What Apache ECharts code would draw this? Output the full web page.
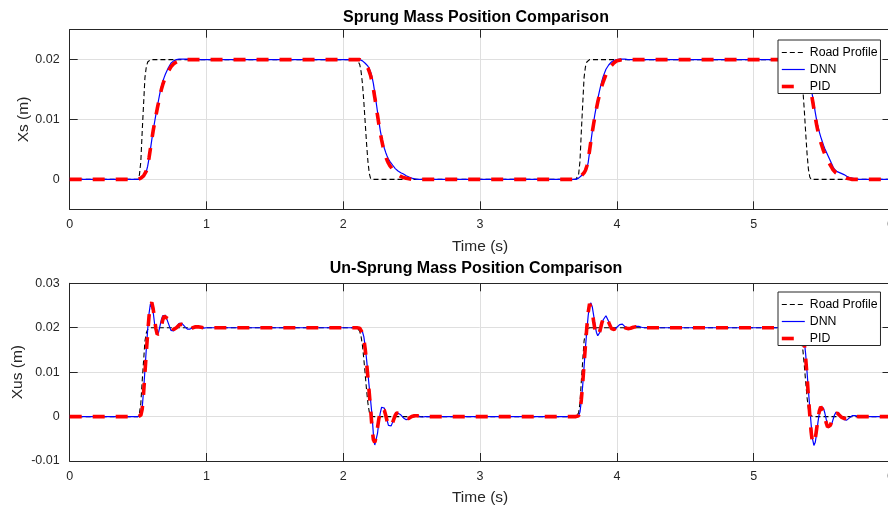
<!DOCTYPE html>
<html>
<head>
<meta charset="utf-8">
<script src="https://cdn.jsdelivr.net/npm/echarts@6/dist/echarts.min.js"></script>
<style>
  html, body { margin: 0; padding: 0; background: #fff; }
  #main { width: 888px; height: 511px; }
</style>
</head>
<body>
<div id="main"></div>
<script>
// time (s), dense around the four road transitions
var t = [0, 0.2, 0.4,
  0.48, 0.50, 0.51, 0.52, 0.53, 0.54, 0.55, 0.56, 0.57, 0.58, 0.59, 0.60, 0.61, 0.62, 0.63, 0.64, 0.65, 0.66, 0.67, 0.68, 0.69, 0.70,
  0.72, 0.74, 0.76, 0.78, 0.80, 0.82, 0.84, 0.86, 0.88, 0.90, 0.92, 0.94, 0.96, 0.98, 1.00,
  1.2, 1.4, 1.6, 1.8, 2.0,
  2.08, 2.10, 2.11, 2.12, 2.13, 2.14, 2.15, 2.16, 2.17, 2.18, 2.19, 2.20, 2.21, 2.22, 2.23, 2.24, 2.25, 2.26, 2.27, 2.28,
  2.29, 2.30, 2.31, 2.32, 2.33, 2.34, 2.35, 2.36, 2.37, 2.38, 2.39, 2.40,
  2.42, 2.44, 2.46, 2.48, 2.50, 2.52, 2.54, 2.56, 2.58, 2.60,
  2.7, 2.9, 3.1, 3.3, 3.5,
  3.68, 3.70, 3.71, 3.72, 3.73, 3.74, 3.75, 3.76, 3.77, 3.78, 3.79, 3.80, 3.81, 3.82, 3.83, 3.84, 3.85, 3.86, 3.87, 3.88, 3.89, 3.90,
  3.92, 3.94, 3.96, 3.98, 4.00, 4.02, 4.04, 4.06, 4.08, 4.10, 4.12, 4.14, 4.16, 4.18, 4.20,
  4.4, 4.6, 4.8, 5.0, 5.2,
  5.30, 5.32, 5.33, 5.34, 5.35, 5.36, 5.37, 5.38, 5.39, 5.40, 5.41, 5.42, 5.43, 5.44, 5.45, 5.46, 5.47, 5.48, 5.49, 5.50,
  5.51, 5.52, 5.53, 5.54, 5.55, 5.56, 5.57, 5.58, 5.59, 5.60, 5.61, 5.62,
  5.64, 5.66, 5.68, 5.70, 5.72, 5.74, 5.76, 5.78, 5.80, 5.82,
  5.9, 6.0];

// road profile (same input for both plots)
var road = [0, 0, 0,
  0, 0, 0.0008, 0.003, 0.008, 0.0125, 0.017, 0.0188, 0.0196, 0.0199, 0.02, 0.02, 0.02, 0.02, 0.02, 0.02, 0.02, 0.02, 0.02, 0.02, 0.02, 0.02,
  0.02, 0.02, 0.02, 0.02, 0.02, 0.02, 0.02, 0.02, 0.02, 0.02, 0.02, 0.02, 0.02, 0.02, 0.02,
  0.02, 0.02, 0.02, 0.02, 0.02,
  0.02, 0.02, 0.0199, 0.0192, 0.018, 0.016, 0.013, 0.0095, 0.006, 0.003, 0.001, 0.0001, 0, 0, 0, 0, 0, 0, 0, 0,
  0, 0, 0, 0, 0, 0, 0, 0, 0, 0, 0, 0,
  0, 0, 0, 0, 0, 0, 0, 0, 0, 0,
  0, 0, 0, 0, 0,
  0, 0, 0, 0.0008, 0.003, 0.008, 0.0125, 0.017, 0.0188, 0.0196, 0.0199, 0.02, 0.02, 0.02, 0.02, 0.02, 0.02, 0.02, 0.02, 0.02, 0.02, 0.02,
  0.02, 0.02, 0.02, 0.02, 0.02, 0.02, 0.02, 0.02, 0.02, 0.02, 0.02, 0.02, 0.02, 0.02, 0.02,
  0.02, 0.02, 0.02, 0.02, 0.02,
  0.02, 0.02, 0.0197, 0.0188, 0.0172, 0.0148, 0.0115, 0.0078, 0.0043, 0.0017, 0.0004, 0, 0, 0, 0, 0, 0, 0, 0, 0,
  0, 0, 0, 0, 0, 0, 0, 0, 0, 0, 0, 0,
  0, 0, 0, 0, 0, 0, 0, 0, 0, 0,
  0, 0];

// sprung mass position Xs (m)
var xsDnn = [0, 0, 0,
  0, 0, 0.0001, 0.0002, 0.0004, 0.0006, 0.0008, 0.0013, 0.0022, 0.0035, 0.005, 0.0066, 0.0082, 0.0095, 0.0108, 0.0121, 0.0133, 0.0145, 0.0155, 0.0163, 0.017, 0.0176,
  0.0186, 0.0194, 0.0198, 0.02, 0.0201, 0.0201, 0.0201, 0.0201, 0.0201, 0.02, 0.02, 0.02, 0.02, 0.02, 0.02,
  0.02, 0.02, 0.02, 0.02, 0.02,
  0.02, 0.02, 0.02, 0.02, 0.0199, 0.0198, 0.0196, 0.0194, 0.0192, 0.0189, 0.0185, 0.0179, 0.0171, 0.016, 0.0145, 0.0129, 0.0113, 0.0097, 0.0082, 0.007,
  0.006, 0.0052, 0.0045, 0.0039, 0.0034, 0.003, 0.0027, 0.0024, 0.0021, 0.0018, 0.0016, 0.0014,
  0.0011, 0.0009, 0.0006, 0.0004, 0.0002, 0.0001, 0, 0, 0, 0,
  0, 0, 0, 0, 0,
  0, 0, 0, 0.0002, 0.0004, 0.0006, 0.0008, 0.001, 0.0013, 0.0018, 0.0028, 0.0045, 0.0063, 0.008, 0.0096, 0.011, 0.0122, 0.0134, 0.0145, 0.0155, 0.0164, 0.0172,
  0.0184, 0.0191, 0.0196, 0.0199, 0.02, 0.0201, 0.0201, 0.0201, 0.02, 0.02, 0.02, 0.02, 0.02, 0.02, 0.02,
  0.02, 0.02, 0.02, 0.02, 0.02,
  0.02, 0.02, 0.02, 0.0199, 0.0198, 0.0196, 0.0193, 0.0189, 0.0183, 0.0175, 0.0165, 0.0152, 0.0139, 0.0126, 0.0112, 0.0099, 0.0088, 0.0079, 0.0071, 0.0064,
  0.0057, 0.0051, 0.0046, 0.0041, 0.0036, 0.0031, 0.0026, 0.0021, 0.0017, 0.0015, 0.0013, 0.0012,
  0.001, 0.0008, 0.0005, 0.0003, 0.0002, 0.0001, 0, 0, 0, 0,
  0, 0];

var xsPid = [0, 0, 0,
  0, 0, 0.0001, 0.0002, 0.0004, 0.0006, 0.0009, 0.0014, 0.0023, 0.0036, 0.0051, 0.0066, 0.0081, 0.0094, 0.0106, 0.0118, 0.0129, 0.014, 0.015, 0.0158, 0.0165, 0.0171,
  0.018, 0.0188, 0.0193, 0.0196, 0.0198, 0.0199, 0.02, 0.02, 0.02, 0.02, 0.02, 0.02, 0.02, 0.02, 0.02,
  0.02, 0.02, 0.02, 0.02, 0.02,
  0.02, 0.02, 0.02, 0.02, 0.0199, 0.0198, 0.0196, 0.0193, 0.019, 0.0186, 0.018, 0.0173, 0.0163, 0.0151, 0.0137, 0.0122, 0.0107, 0.0092, 0.0078, 0.0066,
  0.0055, 0.0046, 0.0038, 0.0032, 0.0027, 0.0023, 0.002, 0.0017, 0.0014, 0.0012, 0.001, 0.0008,
  0.0005, 0.0003, 0.0002, 0.0001, 0, 0, 0, 0, 0, 0,
  0, 0, 0, 0, 0,
  0, 0, 0, 0.0002, 0.0004, 0.0006, 0.0008, 0.0011, 0.0015, 0.0022, 0.0033, 0.0048, 0.0064, 0.0079, 0.0093, 0.0106, 0.0118, 0.0129, 0.0139, 0.0148, 0.0156, 0.0163,
  0.0175, 0.0184, 0.019, 0.0195, 0.0198, 0.0199, 0.02, 0.02, 0.02, 0.02, 0.02, 0.02, 0.02, 0.02, 0.02,
  0.02, 0.02, 0.02, 0.02, 0.02,
  0.02, 0.02, 0.02, 0.0199, 0.0197, 0.0195, 0.0191, 0.0186, 0.0179, 0.017, 0.0159, 0.0146, 0.0132, 0.0118, 0.0104, 0.0091, 0.008, 0.007, 0.0062, 0.0055,
  0.0048, 0.0042, 0.0037, 0.0032, 0.0028, 0.0024, 0.002, 0.0016, 0.0013, 0.0011, 0.0009, 0.0008,
  0.0006, 0.0004, 0.0002, 0.0001, 0, 0, 0, 0, 0, 0,
  0, 0];

// un-sprung mass position Xus (m)
var xusDnn = [0, 0, 0,
  0, 0, 0.0001, 0.0004, 0.002, 0.0058, 0.0105, 0.0152, 0.0196, 0.0232, 0.0254, 0.0255, 0.0236, 0.021, 0.019, 0.0184, 0.019, 0.0204, 0.0218, 0.0227, 0.023, 0.0228,
  0.0211, 0.0194, 0.0193, 0.0202, 0.021, 0.021, 0.0203, 0.0197, 0.0197, 0.02, 0.0203, 0.0203, 0.0201, 0.0199, 0.02,
  0.02, 0.02, 0.02, 0.02, 0.02,
  0.02, 0.02, 0.02, 0.0199, 0.0196, 0.0191, 0.018, 0.0158, 0.0129, 0.0097, 0.0065, 0.0035, 0.0003, -0.004, -0.0064, -0.006, -0.0038, -0.0012, 0.0008, 0.0021,
  0.0025, 0.0019, 0.0007, -0.0008, -0.002, -0.0024, -0.0021, -0.0013, -0.0004, 0.0004, 0.0009, 0.001,
  0.0004, -0.0003, -0.0007, -0.0005, 0.0001, 0.0003, 0.0002, 0, -0.0001, 0,
  0, 0, 0, 0, 0,
  0, 0, 0, 0.0002, 0.001, 0.0035, 0.007, 0.0112, 0.0155, 0.0193, 0.0227, 0.025, 0.0256, 0.0247, 0.0228, 0.0206, 0.019, 0.0182, 0.0182, 0.0192, 0.0206, 0.0218,
  0.0227, 0.0214, 0.0199, 0.0195, 0.0201, 0.0207, 0.0208, 0.0202, 0.0198, 0.0198, 0.0201, 0.0203, 0.0203, 0.0201, 0.02,
  0.02, 0.02, 0.02, 0.02, 0.02,
  0.02, 0.02, 0.02, 0.0199, 0.0196, 0.0188, 0.017, 0.014, 0.01, 0.0058, 0.002, -0.0018, -0.005, -0.0065, -0.0058, -0.0038, -0.0012, 0.0008, 0.0021, 0.0025,
  0.0019, 0.0008, -0.0006, -0.0018, -0.0025, -0.0025, -0.0017, -0.0007, 0.0003, 0.0009, 0.0011, 0.0009,
  0, -0.0007, -0.0008, -0.0003, 0.0002, 0.0002, 0.0001, 0, 0, 0,
  0, 0];

var xusPid = [0, 0, 0,
  0, 0, 0.0001, 0.0003, 0.0017, 0.0052, 0.0098, 0.0145, 0.0188, 0.0226, 0.0251, 0.0257, 0.0243, 0.022, 0.0198, 0.0185, 0.0181, 0.0189, 0.0203, 0.0217, 0.0226, 0.0229,
  0.022, 0.0203, 0.0196, 0.02, 0.0206, 0.0208, 0.0204, 0.0199, 0.0198, 0.02, 0.0202, 0.0202, 0.0201, 0.02, 0.02,
  0.02, 0.02, 0.02, 0.02, 0.02,
  0.02, 0.02, 0.02, 0.0199, 0.0195, 0.0188, 0.0175, 0.0152, 0.0122, 0.0088, 0.0052, 0.0015, -0.0025, -0.0052, -0.0058, -0.0046, -0.0025, -0.0005, 0.0011, 0.0019,
  0.002, 0.0014, 0.0003, -0.001, -0.002, -0.0024, -0.0021, -0.0014, -0.0005, 0.0003, 0.0008, 0.001,
  0.0007, 0, -0.0004, -0.0004, 0, 0.0002, 0.0002, 0.0001, 0, 0,
  0, 0, 0, 0, 0,
  0, 0, 0, 0.0002, 0.0011, 0.0038, 0.0075, 0.0118, 0.016, 0.02, 0.0234, 0.0254, 0.0252, 0.0236, 0.0214, 0.0195, 0.0183, 0.018, 0.0186, 0.0198, 0.0211, 0.022,
  0.0225, 0.0212, 0.0198, 0.0196, 0.0202, 0.0206, 0.0205, 0.02, 0.0198, 0.0199, 0.0201, 0.0202, 0.0201, 0.02, 0.02,
  0.02, 0.02, 0.02, 0.02, 0.02,
  0.02, 0.02, 0.02, 0.0198, 0.0194, 0.0184, 0.0164, 0.0132, 0.009, 0.0045, 0.0003, -0.0035, -0.006, -0.0064, -0.005, -0.0028, -0.0005, 0.0013, 0.0022, 0.0021,
  0.0012, -0.0001, -0.0014, -0.0023, -0.0025, -0.002, -0.0011, -0.0002, 0.0005, 0.0008, 0.0008, 0.0006,
  -0.0001, -0.0004, -0.0004, -0.0001, 0.0001, 0.0001, 0, 0, 0, 0,
  0, 0];

var xsTicks = [0, 0.01, 0.02];
var seriesNames = ['Road Profile', 'DNN', 'PID'];

[road, xsDnn, xsPid, xusDnn, xusPid].forEach(function (a, i) {
  if (a.length !== t.length) throw new Error('array ' + i + ' has ' + a.length + ' values, t has ' + t.length);
});

function pairs(arr) {
  return t.map(function (x, i) { return [x, arr[i]]; });
}

var font = 'Liberation Sans';
var axisColor = '#262626';
var gridColor = '#dfdfdf';

function xAx(gridIndex, pos) {
  var main = pos === 'bottom';
  return {
    type: 'value', gridIndex: gridIndex, position: pos,
    min: 0, max: 6, interval: 1,
    name: main ? 'Time (s)' : '', nameLocation: 'middle', nameGap: 29, nameMoveOverlap: false,
    nameTextStyle: { fontFamily: font, fontSize: 15.5, color: axisColor },
    axisLine: { show: true, onZero: false, lineStyle: { color: axisColor, width: 1 } },
    axisTick: { show: true, inside: true, length: 8, lineStyle: { color: axisColor } },
    axisLabel: { show: main, margin: 9, fontFamily: font, fontSize: 12.5, color: axisColor },
    splitLine: { show: main, lineStyle: { color: gridColor, width: 1 } }
  };
}

function yAx(gridIndex, pos, name, gap, range) {
  var main = pos === 'left';
  var ax = {
    type: 'value', gridIndex: gridIndex, position: pos,
    min: range[0], max: range[1],
    name: main ? name : '', nameLocation: 'middle', nameGap: gap, nameMoveOverlap: false,
    nameTextStyle: { fontFamily: font, fontSize: 15.5, color: axisColor },
    axisLine: { show: true, onZero: false, lineStyle: { color: axisColor, width: 1 } },
    axisTick: { show: true, inside: true, length: 8, lineStyle: { color: axisColor } },
    axisLabel: { show: main, margin: 10, fontFamily: font, fontSize: 12.5, color: axisColor },
    splitLine: { show: main, lineStyle: { color: gridColor, width: 1 } }
  };
  if (range[2]) {
    ax.interval = range[2];
  } else {
    ax.axisTick.customValues = xsTicks;
    ax.axisLabel.customValues = xsTicks;
  }
  return ax;
}

function lineSeries(name, data, xi, yi) {
  var style = {
    'Road Profile': { color: '#000000', width: 1.1, type: [5, 3] },
    'DNN': { color: '#0000ff', width: 1.2, type: 'solid' },
    'PID': { color: '#ff0000', width: 3.6, type: [12, 11] }
  }[name];
  return {
    name: name, type: 'line', xAxisIndex: xi, yAxisIndex: yi,
    data: pairs(data), showSymbol: false, symbol: 'none',
    itemStyle: { color: style.color },
    lineStyle: { color: style.color, width: style.width, type: style.type },
    emphasis: { disabled: true }
  };
}

function legendAt(top) {
  return {
    orient: 'vertical', left: 778, top: top,
    data: seriesNames,
    itemWidth: 23, itemHeight: 13, itemGap: 5,
    padding: [6.5, 3, 1, 2],
    backgroundColor: '#ffffff', borderColor: axisColor, borderWidth: 1, borderRadius: 0,
    itemStyle: { opacity: 0 },
    lineStyle: { width: 'inherit', type: 'inherit' },
    textStyle: { fontFamily: font, fontSize: 12.3, color: '#000000' }
  };
}

var myChart = echarts.init(document.getElementById('main'), null, { renderer: 'canvas' });

var option = {
  animation: false,
  backgroundColor: '#ffffff',
  title: [{
    text: 'Sprung Mass Position Comparison', left: 476, top: 10, padding: 0,
    textAlign: 'center', textVerticalAlign: 'top',
    textStyle: { fontFamily: font, fontSize: 16, fontWeight: 'bold', color: '#000000' }
  }, {
    text: 'Un-Sprung Mass Position Comparison', left: 476, top: 261, padding: 0,
    textAlign: 'center', textVerticalAlign: 'top',
    textStyle: { fontFamily: font, fontSize: 16, fontWeight: 'bold', color: '#000000' }
  }],
  legend: [legendAt(40), legendAt(292)],
  grid: [
    { left: 69.7, top: 29.7, width: 820.8, height: 179.6, containLabel: false, outerBoundsMode: 'none' },
    { left: 69.7, top: 283.3, width: 820.8, height: 177.7, containLabel: false, outerBoundsMode: 'none' }
  ],
  xAxis: [xAx(0, 'bottom'), xAx(0, 'top'), xAx(1, 'bottom'), xAx(1, 'top')],
  yAxis: [
    yAx(0, 'left', 'Xs (m)', 38, [-0.005, 0.025]),
    yAx(0, 'right', '', 0, [-0.005, 0.025]),
    yAx(1, 'left', 'Xus (m)', 43.5, [-0.01, 0.03, 0.01]),
    yAx(1, 'right', '', 0, [-0.01, 0.03, 0.01])
  ],
  series: [
    lineSeries('Road Profile', road, 0, 0),
    lineSeries('DNN', xsDnn, 0, 0),
    lineSeries('PID', xsPid, 0, 0),
    lineSeries('Road Profile', road, 2, 2),
    lineSeries('DNN', xusDnn, 2, 2),
    lineSeries('PID', xusPid, 2, 2)
  ]
};

myChart.setOption(option);
</script>
</body>
</html>
